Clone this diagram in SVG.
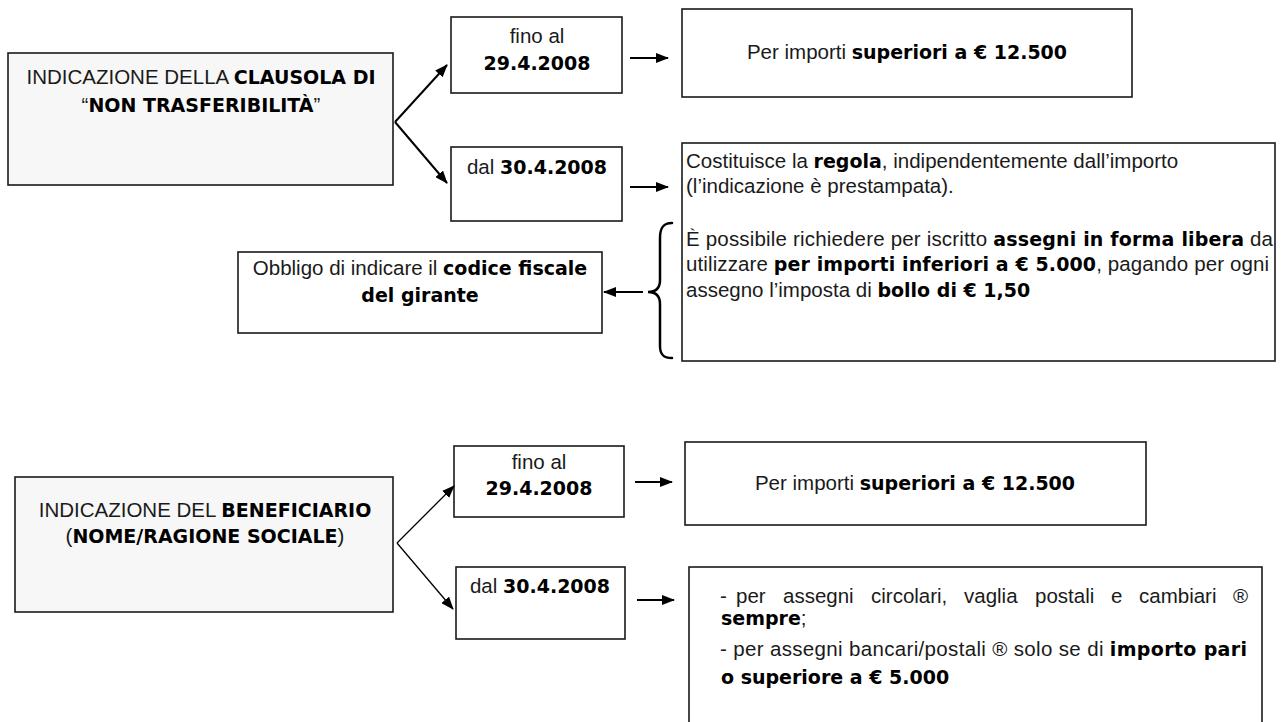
<svg xmlns="http://www.w3.org/2000/svg" width="1283" height="722" viewBox="0 0 1283 722">
<defs>
<style>
.box{fill:#fff;stroke:#1a1a1a;stroke-width:1.6}
.main{fill:#f7f7f7;stroke:#1a1a1a;stroke-width:1.6}
.t{font-family:"Liberation Sans",Arial,sans-serif;font-size:20.5px;fill:#1a1a1a}
.b{font-family:"DejaVu Sans",Verdana,sans-serif;font-weight:bold;font-size:19px;fill:#000}
.c{text-anchor:middle}
.ln{stroke:#000;stroke-width:2;fill:none}
.thin{stroke:#000;stroke-width:1.3;fill:none}
.brace{stroke:#000;stroke-width:2.5;fill:none;stroke-linecap:round}
</style>
<marker id="ah" viewBox="0 0 13 10" refX="12" refY="5" markerWidth="13" markerHeight="10" orient="auto" markerUnits="userSpaceOnUse">
<path d="M0,0 L13,5 L0,10 z" fill="#000"/>
</marker>
</defs>
<rect width="1283" height="722" fill="#fff"/>

<g id="node-clausola">
<rect class="main" x="8" y="53" width="385" height="132"/>
<text class="t c" x="201" y="84">INDICAZIONE DELLA <tspan class="b">CLAUSOLA DI</tspan></text>
<text class="t c" x="201" y="112">“<tspan class="b">NON TRASFERIBILITÀ</tspan>”</text>
</g>
<g id="node-fino1">
<rect class="box" x="451" y="17" width="171" height="76"/>
<text class="t c" x="537" y="43">fino al</text>
<text class="b c" x="537" y="70">29.4.2008</text>
</g>
<g id="node-dal1">
<rect class="box" x="451" y="147" width="171" height="74"/>
<text class="t c" x="537" y="174">dal <tspan class="b">30.4.2008</tspan></text>
</g>
<g id="node-per1">
<rect class="box" x="682" y="9" width="450" height="88"/>
<text class="t c" x="907" y="59">Per importi <tspan class="b">superiori a € 12.500</tspan></text>
</g>
<g id="node-regola">
<rect class="box" x="682" y="143" width="593" height="218"/>
<text class="t" x="686" y="168">Costituisce la <tspan class="b">regola</tspan>, indipendentemente dall’importo</text>
<text class="t" x="686" y="193">(l’indicazione è prestampata).</text>
<text class="t" x="686" y="246" textLength="587" lengthAdjust="spacing">È possibile richiedere per iscritto <tspan class="b">assegni in forma libera</tspan> da</text>
<text class="t" x="686" y="271" textLength="583" lengthAdjust="spacing">utilizzare <tspan class="b">per importi inferiori a € 5.000</tspan>, pagando per ogni</text>
<text class="t" x="686" y="297">assegno l’imposta di <tspan class="b">bollo di € 1,50</tspan></text>
</g>
<g id="node-obbligo">
<rect class="box" x="238" y="252" width="364" height="81"/>
<text class="t c" x="420" y="275">Obbligo di indicare il <tspan class="b">codice fiscale</tspan></text>
<text class="b c" x="420" y="302">del girante</text>
</g>

<g id="node-beneficiario">
<rect class="main" x="15" y="477" width="378" height="135"/>
<text class="t c" x="205" y="517">INDICAZIONE DEL <tspan class="b">BENEFICIARIO</tspan></text>
<text class="t c" x="205" y="543">(<tspan class="b">NOME/RAGIONE SOCIALE</tspan>)</text>
</g>
<g id="node-fino2">
<rect class="box" x="454" y="446" width="170" height="71"/>
<text class="t c" x="539" y="469">fino al</text>
<text class="b c" x="539" y="495">29.4.2008</text>
</g>
<g id="node-dal2">
<rect class="box" x="456" y="567" width="169" height="72"/>
<text class="t c" x="540" y="593">dal <tspan class="b">30.4.2008</tspan></text>
</g>
<g id="node-per2">
<rect class="box" x="685" y="442" width="461" height="83"/>
<text class="t c" x="915" y="490">Per importi <tspan class="b">superiori a € 12.500</tspan></text>
</g>
<g id="node-sempre">
<rect class="box" x="689" y="567" width="573" height="170"/>
<text class="t" y="603"><tspan x="720">-</tspan><tspan x="736">per</tspan><tspan x="783">assegni</tspan><tspan x="871">circolari,</tspan><tspan x="964">vaglia</tspan><tspan x="1035">postali</tspan><tspan x="1111">e</tspan><tspan x="1139">cambiari</tspan><tspan x="1233">®</tspan></text>
<text class="t" x="721" y="625"><tspan class="b">sempre</tspan>;</text>
<text class="t" x="720" y="656" textLength="527" lengthAdjust="spacing">- per assegni bancari/postali ® solo se di <tspan class="b">importo pari</tspan></text>
<text class="b" x="721" y="684">o superiore a € 5.000</text>
</g>

<g id="connectors">
<line class="ln" x1="395" y1="122" x2="447" y2="65" marker-end="url(#ah)"/>
<line class="ln" x1="395" y1="122" x2="447" y2="183" marker-end="url(#ah)"/>
<line class="ln" x1="630" y1="58" x2="668" y2="58" marker-end="url(#ah)"/>
<line class="ln" x1="630" y1="187" x2="668" y2="187" marker-end="url(#ah)"/>
<path class="brace" d="M672,223 C663,223 660,228 660,238 L660,280 C660,288 656,292 648,292 C656,292 660,296 660,304 L660,346 C660,354 663,358 672,358"/>
<line class="ln" x1="643" y1="292" x2="604" y2="292" marker-end="url(#ah)"/>
<line class="thin" x1="397" y1="543" x2="454" y2="486" marker-end="url(#ah)"/>
<line class="thin" x1="397" y1="543" x2="453" y2="609" marker-end="url(#ah)"/>
<line class="ln" x1="635" y1="482" x2="672" y2="482" marker-end="url(#ah)"/>
<line class="ln" x1="637" y1="600" x2="674" y2="600" marker-end="url(#ah)"/>
</g>
</svg>
